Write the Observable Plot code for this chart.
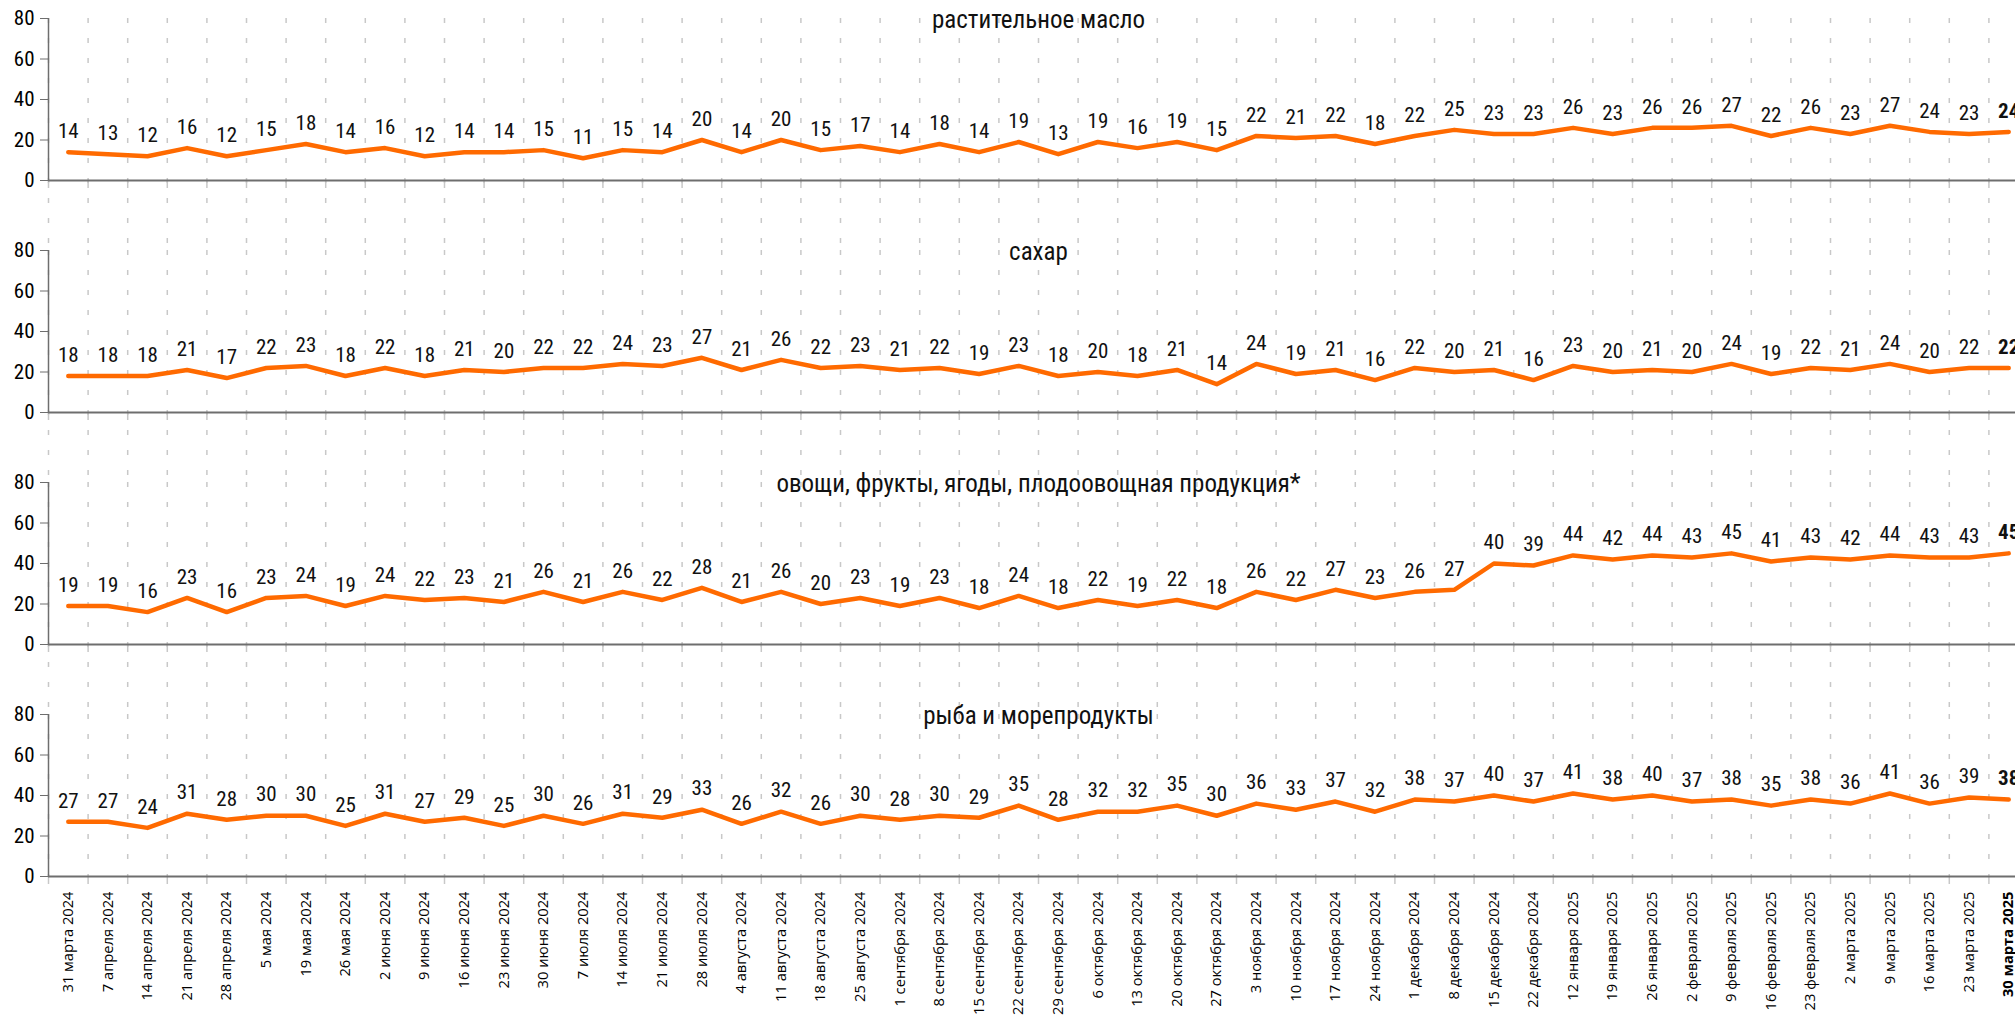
<!DOCTYPE html>
<html><head><meta charset="utf-8">
<script src="https://cdn.jsdelivr.net/npm/d3@7"></script>
<script src="https://cdn.jsdelivr.net/npm/@observablehq/plot@0.6"></script>
<style>
html,body{margin:0;padding:0;background:#fff;overflow:hidden}
#chart svg{overflow:hidden;display:block}
g[aria-label="x-axis tick label"]{font-family:"Open Sans","Noto Sans",sans-serif;font-size:14.7px}
g[aria-label="x-axis tick label"] text:last-of-type{font-weight:bold}
</style></head><body><div id="chart"></div>
<script>
const dates = ["31 марта 2024","7 апреля 2024","14 апреля 2024","21 апреля 2024","28 апреля 2024","5 мая 2024","19 мая 2024","26 мая 2024","2 июня 2024","9 июня 2024","16 июня 2024","23 июня 2024","30 июня 2024","7 июля 2024","14 июля 2024","21 июля 2024","28 июля 2024","4 августа 2024","11 августа 2024","18 августа 2024","25 августа 2024","1 сентября 2024","8 сентября 2024","15 сентября 2024","22 сентября 2024","29 сентября 2024","6 октября 2024","13 октября 2024","20 октября 2024","27 октября 2024","3 ноября 2024","10 ноября 2024","17 ноября 2024","24 ноября 2024","1 декабря 2024","8 декабря 2024","15 декабря 2024","22 декабря 2024","12 января 2025","19 января 2025","26 января 2025","2 февраля 2025","9 февраля 2025","16 февраля 2025","23 февраля 2025","2 марта 2025","9 марта 2025","16 марта 2025","23 марта 2025","30 марта 2025"];
const series = ["растительное масло","сахар","овощи, фрукты, ягоды, плодоовощная продукция*","рыба и морепродукты"];
const oil   = [14,13,12,16,12,15,18,14,16,12,14,14,15,11,15,14,20,14,20,15,17,14,18,14,19,13,19,16,19,15,22,21,22,18,22,25,23,23,26,23,26,26,27,22,26,23,27,24,23,24];
const sugar = [18,18,18,21,17,22,23,18,22,18,21,20,22,22,24,23,27,21,26,22,23,21,22,19,23,18,20,18,21,14,24,19,21,16,22,20,21,16,23,20,21,20,24,19,22,21,24,20,22,22];
const veg   = [19,19,16,23,16,23,24,19,24,22,23,21,26,21,26,22,28,21,26,20,23,19,23,18,24,18,22,19,22,18,26,22,27,23,26,27,40,39,44,42,44,43,45,41,43,42,44,43,43,45];
const fish  = [27,27,24,31,28,30,30,25,31,27,29,25,30,26,31,29,33,26,32,26,30,28,30,29,35,28,32,32,35,30,36,33,37,32,38,37,40,37,41,38,40,37,38,35,38,36,41,36,39,38];
const yTicks = [0,20,40,60,80];

const valuesBySeries = [oil, sugar, veg, fish];
const n = dates.length;
const rows = series.flatMap((cat, k) => valuesBySeries[k].map((v, i) => ({cat, i, v})));
const bounds = d3.range(n + 1).map(i => i - 0.5);
const gridUpper = series.slice(0, series.length - 1).flatMap(cat => bounds.map(b => ({cat, b})));
const gridLower = bounds.map(b => ({cat: series[series.length - 1], b}));
const allBounds = series.flatMap(cat => bounds.map(b => ({cat, b})));

const COND = '"Roboto Condensed","Liberation Sans Narrow","DejaVu Sans Condensed",sans-serif';
const GRID = "#c8c8c8";
const AX = "#6e6e6e";
const ORANGE = "#ff6a00";

const chart = Plot.plot({
  width: 2015, height: 1016,
  marginTop: 18, marginBottom: 140, marginLeft: 48, marginRight: -13,
  style: {fontFamily: COND, background: "#fff", overflow: "hidden"},
  x: {type: "linear", domain: [-0.5, n - 0.5]},
  y: {domain: [0, 80]},
  fy: {domain: series, paddingInner: 70 / 232, paddingOuter: 0, axis: null},
  marks: [
    Plot.ruleX(gridUpper, {x: "b", fy: "cat", stroke: GRID, strokeWidth: 1.5, strokeDasharray: "5,15", insetBottom: -70}),
    Plot.ruleX(gridLower, {x: "b", fy: "cat", stroke: GRID, strokeWidth: 1.5, strokeDasharray: "5,15"}),
    Plot.ruleX(allBounds, {x: "b", y1: 0, y2: 0, fy: "cat", insetBottom: -8, stroke: GRID, strokeWidth: 1.5}),
    Plot.ruleY([0], {stroke: AX, strokeWidth: 2}),
    Plot.ruleX([-0.5], {stroke: AX, strokeWidth: 1.5}),
    Plot.axisY({ticks: yTicks, tickSize: 8, tickPadding: 6, label: null, fontSize: 21, fontFamily: COND, stroke: AX, fill: "#000"}),
    Plot.axisX({ticks: d3.range(n), tickFormat: i => dates[i], tickRotate: -90, tickSize: 0, tickPadding: 15, label: null, fill: "#000"}),
    Plot.lineY(rows, {x: "i", y: "v", fy: "cat", stroke: ORANGE, strokeWidth: 4.5, strokeLinejoin: "round"}),
    Plot.text(rows, {filter: d => d.i < n - 1, x: "i", y: "v", fy: "cat", text: d => String(d.v), dy: -21, fontSize: 21, fontFamily: COND, fill: "#111"}),
    Plot.text(rows, {filter: d => d.i === n - 1, x: "i", y: "v", fy: "cat", text: d => String(d.v), dy: -21, fontSize: 21, fontFamily: COND, fontWeight: "bold", fill: "#111"}),
    Plot.text(series, {fy: d => d, text: d => d, frameAnchor: "top", dy: -8, fontSize: 25, fontFamily: COND, fill: "#111"})
  ]
});
document.getElementById("chart").appendChild(chart);
</script></body></html>
